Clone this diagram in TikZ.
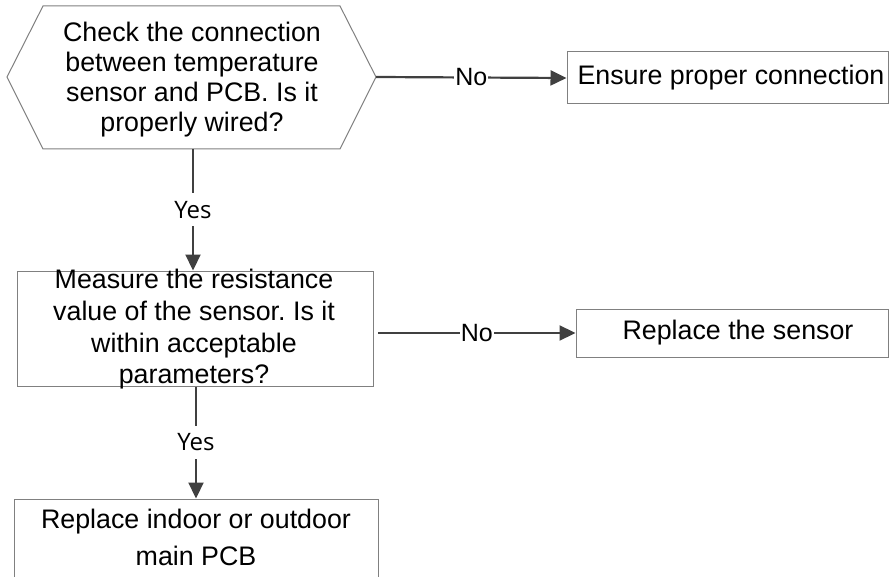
\documentclass[tikz,border=0pt]{standalone}
\usepackage{fontspec}
\setmainfont{Liberation Sans}
\newfontfamily\yesfont{Open Sans}
\usetikzlibrary{arrows.meta}
\frenchspacing
\begin{document}
\begin{tikzpicture}[x=1pt,y=-1pt,
  box/.style={draw=black!50, line width=1pt, fill=white},
  txt/.style={align=center, inner sep=0pt},
  conn/.style={draw=black!75, line width=2.2pt, -{Triangle[length=16pt,width=15pt]}},
  nolab/.style={fill=white, font=\fontsize{25}{28}\selectfont, inner xsep=1pt, inner ysep=3pt},
  yeslab/.style={fill=white, font=\yesfont\fontsize{24}{28}\selectfont, inner xsep=2pt, inner ysep=8pt}]
\useasboundingbox (0,0) rectangle (890,577);
\fill[white] (0,0) rectangle (890,577);

% decision 1 (hexagon)
\coordinate (hL) at (7,77);
\coordinate (hR) at (376,77);
\coordinate (hB) at (193,149);
\draw[box] (43,6) -- (340,6) -- (hR) -- (340,149) -- (43,149) -- (hL) -- cycle;
\node[txt, font=\fontsize{26.8}{30}\selectfont] (q1) at (192,80)
  {Check the connection\\between temperature\\sensor and PCB. Is it\\properly wired?};

% action: ensure connection
\node[box, minimum width=321pt, minimum height=52pt, inner sep=0pt,
      font=\fontsize{26.8}{30}\selectfont] (a1) at (727.5,78) {\hspace*{7pt}Ensure proper connection};

% decision 2 (rectangle, text overflowing)
\node[box, minimum width=356pt, minimum height=115pt, inner sep=0pt] (q2) at (195,328.5) {};
\node[txt, font=\fontsize{26.8}{31.8}\selectfont] (q2t) at (194,329.3)
  {Measure the resistance\\value of the sensor. Is it\\within acceptable\\parameters?};

% action: replace sensor
\node[box, minimum width=312pt, minimum height=48pt, inner sep=0pt] (a2) at (732,333) {};
\node[txt, font=\fontsize{26.8}{30}\selectfont] (a2t) at (738,333) {Replace the sensor};

% action: replace PCB (bottom cut by page)
\node[box, minimum width=364pt, minimum height=121pt, inner sep=0pt] (a3) at (196,559.5) {};
\node[txt, font=\fontsize{26.8}{37}\selectfont] (a3t) at (196,537.5)
  {Replace indoor or outdoor\\main PCB};

% connectors
\coordinate (q2o) at (378,333);
\draw[conn] (hR) -- (a1.west) node[nolab, midway] {No};
\draw[conn] (hB) -- (hB |- q2.north) node[yeslab, midway] {Yes};
\draw[conn] (q2o) -- (a2.west) node[nolab, midway] {No};
\draw[conn] (q2.south -| a3.north) -- (a3.north) node[yeslab, midway] {Yes};
\end{tikzpicture}
\end{document}
